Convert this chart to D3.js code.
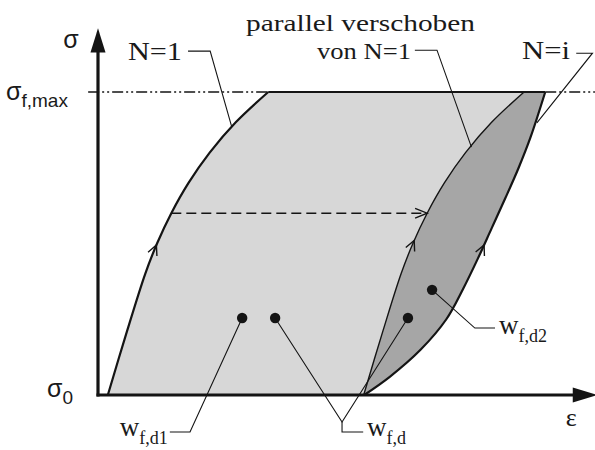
<!DOCTYPE html>
<html>
<head>
<meta charset="utf-8">
<script src="https://cdn.jsdelivr.net/npm/d3@7"></script>
<style>
  body { margin: 0; background: #fff; }
  svg text { fill: #1a1a1a; }
</style>
</head>
<body>
<svg id="chart" width="595" height="450"></svg>
<script>
// Stress–strain hysteresis sketch: strain ε (relative units) vs stress σ (σ_f,max = 100)
const curveN1Eps = [2.0, 5.7, 9.6, 12.0, 14.9, 18.4, 22.7, 28.0, 34.6];
const curveN1Sig = [0, 20, 40, 50, 60, 70, 80, 90, 100];
const shiftEps = 52.0;                       // N=1 curve moved parallel along ε
const curveNiEps = [54.1, 59.3, 65.6, 70.8, 74.2, 77.2, 80.0, 82.8, 85.5, 87.9, 90.9];
const curveNiSig = [0, 6, 15, 25, 35, 45, 55, 65, 75, 85, 100];
const sigmaMax = 100;
const transferSig = 60;                      // level of the dashed shift arrow
const flowArrowSig = [49.5, 51, 49.5];       // direction marks on N=1, shifted, N=i
const dotEps = [29.3, 36.0, 63.0, 67.9];
const dotSig = [25.4, 25.4, 25.4, 34.7];

const svg = d3.select("#chart");
const x = d3.scaleLinear().domain([0, 100]).range([98, 590]);
const y = d3.scaleLinear().domain([0, 100]).range([395, 92]);

const ink = "#141414";
const lightFill = "#d7d7d7";
const darkFill = "#a6a6a6";
const serif = "'Liberation Serif', 'Times New Roman', serif";
const sans = "'Liberation Sans', Arial, sans-serif";

const n1 = curveN1Eps.map((e, i) => [e, curveN1Sig[i]]);
const shifted = n1.map(([e, s]) => [e + shiftEps, s]);
const ni = curveNiEps.map((e, i) => [e, curveNiSig[i]]);

const line = d3.line().x(d => x(d[0])).y(d => y(d[1])).curve(d3.curveCatmullRom.alpha(0.5));

// sample a curve densely so the fills follow the drawn path exactly
function sample(pts, n = 120) {
  const tmp = svg.append("path").attr("d", line(pts));
  const node = tmp.node(), L = node.getTotalLength(), out = [];
  for (let i = 0; i <= n; i++) {
    const p = node.getPointAtLength(L * i / n);
    out.push([p.x, p.y]);
  }
  tmp.remove();
  return out;
}
const n1Px = sample(n1), shPx = sample(shifted), niPx = sample(ni);

// light area between N=1 and its parallel copy
const lightPoly = n1Px.concat(shPx.slice().reverse());
svg.append("path").attr("d", "M" + lightPoly.join("L") + "Z").attr("fill", lightFill);
// dark area between the parallel copy and N=i
const darkPoly = shPx.concat(niPx.slice().reverse());
svg.append("path").attr("d", "M" + darkPoly.join("L") + "Z").attr("fill", darkFill);

// σ_f,max reference: dash-dot outside the loops, solid on top of them
const sMaxY = y(sigmaMax);
const topLeft = curveN1Eps[curveN1Eps.length - 1], topRight = curveNiEps[curveNiEps.length - 1];
svg.append("line").attr("x1", x(-2)).attr("x2", x(topLeft))
  .attr("y1", sMaxY).attr("y2", sMaxY)
  .attr("stroke", ink).attr("stroke-width", 1.6).attr("stroke-dasharray", "11,3,2,3,2,3");
svg.append("line").attr("x1", x(topRight)).attr("x2", x(101))
  .attr("y1", sMaxY).attr("y2", sMaxY)
  .attr("stroke", ink).attr("stroke-width", 1.6).attr("stroke-dasharray", "11,3,2,3,2,3");
svg.append("line").attr("x1", x(topLeft)).attr("x2", x(topRight))
  .attr("y1", sMaxY).attr("y2", sMaxY)
  .attr("stroke", ink).attr("stroke-width", 2);

// curves
const curvePaths = [n1, shifted, ni].map((pts, i) =>
  svg.append("path").attr("d", line(pts)).attr("fill", "none")
    .attr("stroke", ink).attr("stroke-width", i === 1 ? 1.4 : 2.2).node());

// open chevron head at point p travelling along direction (dx, dy)
function chevron(px, py, dx, dy, len = 11, ang = 26, w = 1.4) {
  const a = Math.atan2(dy, dx), r = ang * Math.PI / 180;
  const p1 = [px - len * Math.cos(a - r), py - len * Math.sin(a - r)];
  const p2 = [px - len * Math.cos(a + r), py - len * Math.sin(a + r)];
  svg.append("path").attr("d", `M${p1}L${px},${py}L${p2}`)
    .attr("fill", "none").attr("stroke", ink).attr("stroke-width", w);
}

// direction marks on each curve at the given stress level
function pointAtY(node, targetY) {
  let lo = 0, hi = node.getTotalLength();
  for (let k = 0; k < 40; k++) {
    const mid = (lo + hi) / 2;
    if (node.getPointAtLength(mid).y > targetY) lo = mid; else hi = mid;
  }
  return lo;
}
curvePaths.forEach((node, i) => {
  const l = pointAtY(node, y(flowArrowSig[i]));
  const p = node.getPointAtLength(l), q = node.getPointAtLength(l + 3);
  chevron(p.x, p.y, q.x - p.x, q.y - p.y);
});

// dashed shift arrow from N=1 to the parallel copy
const tIdx = curveN1Sig.indexOf(transferSig);
const tx0 = x(curveN1Eps[tIdx]), tx1 = x(curveN1Eps[tIdx] + shiftEps), ty = y(transferSig);
svg.append("line").attr("x1", tx0).attr("x2", tx1 - 2).attr("y1", ty).attr("y2", ty)
  .attr("stroke", ink).attr("stroke-width", 1.6).attr("stroke-dasharray", "10,5");
chevron(tx1, ty, 1, 0, 13, 22, 1.4);

// axes with filled arrow heads
svg.append("line").attr("x1", x(0)).attr("x2", x(0)).attr("y1", y(0) + 1.5).attr("y2", y(118))
  .attr("stroke", ink).attr("stroke-width", 3.2);
svg.append("path").attr("d", `M${x(0)},${y(121)}L${x(0) - 7.5},${y(113)}L${x(0) + 7.5},${y(113)}Z`).attr("fill", ink);
svg.append("line").attr("x1", x(0) - 1.5).attr("x2", x(97)).attr("y1", y(0)).attr("y2", y(0))
  .attr("stroke", ink).attr("stroke-width", 3.2);
svg.append("path").attr("d", `M${x(101.5)},${y(0)}L${x(96.5)},${y(0) - 7.5}L${x(96.5)},${y(0) + 7.5}Z`).attr("fill", ink);

// energy markers
svg.selectAll("circle.dot").data(dotEps).join("circle").attr("class", "dot")
  .attr("cx", d => x(d)).attr("cy", (d, i) => y(dotSig[i])).attr("r", 5.2).attr("fill", ink);

// leader lines (ε, σ units)
const leaders = [
  [[dotEps[0], dotSig[0]], [18.7, -12.2], [14.6, -12.2]],
  [[dotEps[1], dotSig[1]], [49.6, -8.9], [dotEps[2], dotSig[2]]],
  [[49.6, -8.9], [49.6, -12.2], [53.9, -12.2]],
  [[dotEps[3], dotSig[3]], [76.6, 22.1], [80.7, 22.1]],
  [[18.3, 113.5], [22.8, 113.5], [27.2, 88.4]],
  [[64.4, 113.8], [68.9, 113.8], [75.9, 81.8]],
  [[97.2, 112.8], [100.5, 112.8], [89.2, 89.8]]
];
const straight = d3.line().x(d => x(d[0])).y(d => y(d[1]));
leaders.forEach(pts => svg.append("path").attr("d", straight(pts))
  .attr("fill", "none").attr("stroke", ink).attr("stroke-width", 1.1));

// labels
function label(px, py, txt, size, family, anchor = "start", len = null) {
  const t = svg.append("text").attr("x", px).attr("y", py).attr("font-family", family)
    .attr("font-size", size).attr("text-anchor", anchor).text(txt);
  if (len) t.attr("textLength", len).attr("lengthAdjust", "spacingAndGlyphs");
  return t;
}
function subLabel(px, py, main, sub, size, subSize, family, anchor = "start") {
  const t = svg.append("text").attr("x", px).attr("y", py).attr("font-family", family)
    .attr("text-anchor", anchor);
  t.append("tspan").attr("font-size", size).text(main);
  t.append("tspan").attr("font-size", subSize).attr("dy", size * 0.28).text(sub);
  return t;
}

label(x(-5.5), y(114.5), "σ", 25, sans, "middle");
subLabel(6, y(97.5), "σ", "f,max", 25, 19, sans);
subLabel(47, y(-0.6), "σ", "0", 25, 19, sans);
label(x(96.2), y(-10.2), "ε", 26, serif, "middle");

label(128, y(110.5), "N=1", 26, serif, "start", 54);
label(246, y(120.2), "parallel verschoben", 23, serif, "start", 229);
label(411, y(111), "von N=1", 24, serif, "end", 94);
label(522, y(111), "N=i", 26, serif, "start", 48);

subLabel(x(14.2), y(-13.6), "w", "f,d1", 27, 18, serif, "end");
subLabel(x(54.7), y(-13.6), "w", "f,d", 27, 18, serif, "start");
subLabel(x(81.5), y(20.0), "w", "f,d2", 27, 18, serif, "start");
</script>
</body>
</html>
